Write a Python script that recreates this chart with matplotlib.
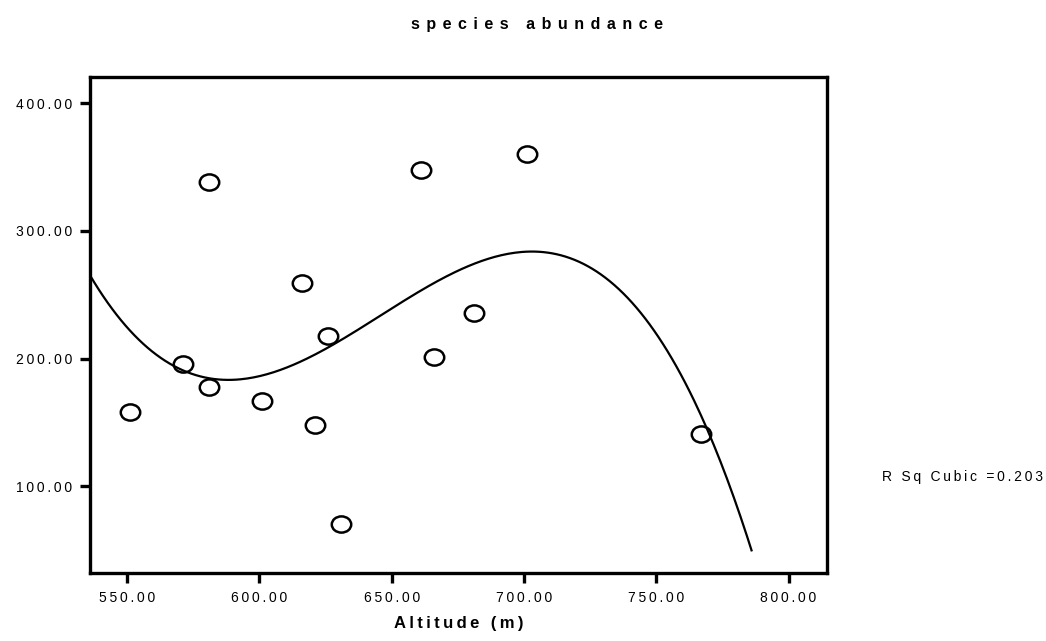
import numpy as np
import matplotlib
matplotlib.use("Agg")
import matplotlib.pyplot as plt
from matplotlib.path import Path

plt.rcParams['font.family'] = ['Liberation Sans', 'DejaVu Sans']

# observed sites: altitude (m) and species abundance
altitude = [551, 571, 581, 581, 601, 616, 621, 626, 631, 661, 666, 681, 701, 767]
abundance = [158, 196, 338, 178, 167, 259, 148, 218, 70, 348, 201, 236, 360, 141]

# range over which the cubic fit is drawn
fit_from, fit_to = 536, 786

x_ticks = [550, 600, 650, 700, 750, 800]
y_ticks = [100, 200, 300, 400]


def spaced(s, gap='\u2009'):
    # SPSS output draws its text letter-spaced
    return gap.join(s)


# cubic regression of abundance on altitude
coef = np.polyfit(altitude, abundance, 3)
fx = np.linspace(fit_from, fit_to, 300)
fy = np.polyval(coef, fx)

# slightly wide open circle, like the SPSS marker
circ = Path.unit_circle()
ellipse = Path(circ.vertices * [1.2, 1.0], circ.codes)

fig = plt.figure(figsize=(10.46, 6.41), dpi=100)
ax = fig.add_axes([0.086, 0.1061, 0.7046, 0.7738])

ax.plot(fx, fy, color='black', lw=1.6, zorder=2)
ax.plot(altitude, abundance, linestyle='none', marker=ellipse, markersize=14,
        markerfacecolor='none', markeredgecolor='black', markeredgewidth=1.8, zorder=3)

ax.set_xlim(536, 814.5)
ax.set_ylim(32, 420.5)
ax.set_xticks(x_ticks)
ax.set_yticks(y_ticks)
ax.set_xticklabels([spaced('%.2f' % v) for v in x_ticks])
ax.set_yticklabels([spaced('%.2f' % v) for v in y_ticks])

for s in ax.spines.values():
    s.set_linewidth(2.4)
ax.tick_params(direction='out', length=7, width=2.4, labelsize=10, pad=6)

ax.set_xlabel(spaced('Altitude (m)'), fontsize=12, fontweight='bold', labelpad=8)
fig.text(0.513, 0.962, spaced('species abundance', '\u2009\u2009'), ha='center', va='center',
         fontsize=11.5, fontweight='bold')
fig.text(0.843, 0.256, spaced('R Sq Cubic =0.203'), ha='left', va='center', fontsize=10)

fig.savefig('out.png', dpi=100)
